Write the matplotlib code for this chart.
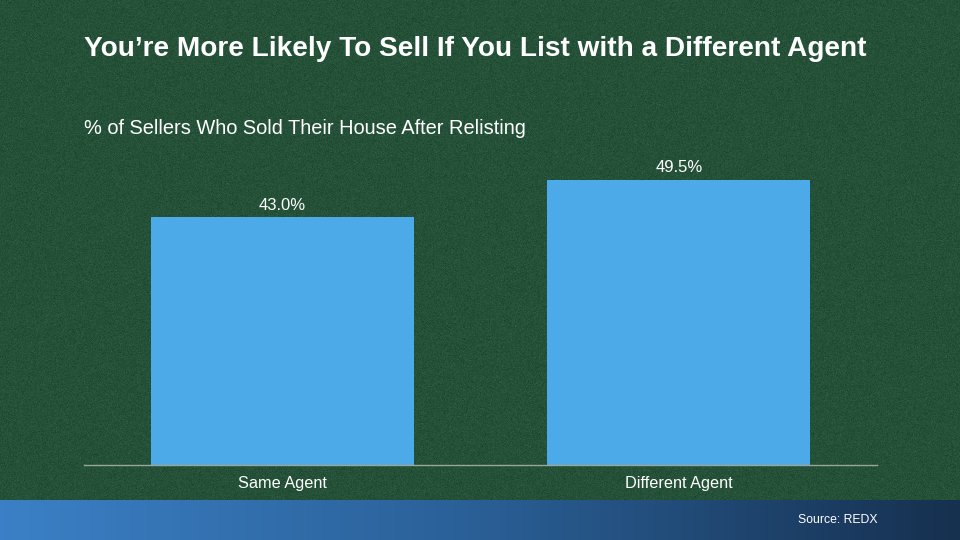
import matplotlib.pyplot as plt
import numpy as np
from matplotlib.colors import LinearSegmentedColormap

plt.rcParams['font.family'] = ['Liberation Sans', 'DejaVu Sans']

# data
categories = ['Same Agent', 'Different Agent']
values = [43.0, 49.5]
value_labels = ['43.0%', '49.5%']

title = 'You\u2019re More Likely To Sell If You List with a Different Agent'
subtitle = '% of Sellers Who Sold Their House After Relisting'
source = 'Source: REDX'

bg_green = '#25513a'
bar_blue = '#4daae8'

W, H = 960, 540
fig = plt.figure(figsize=(9.6, 5.4), dpi=100)
fig.patch.set_facecolor(bg_green)

# felt-like background texture
bg = fig.add_axes([0, 0, 1, 1], zorder=-10)
rng = np.random.default_rng(3)
noise = rng.normal(0, 1, (H, W))
base = np.array([0x25, 0x51, 0x38]) / 255
tex = np.clip(base[None, None, :] + noise[..., None] * 0.018, 0, 1)
bg.imshow(tex, aspect='auto', extent=[0, 1, 0, 1], interpolation='nearest')
bg.axis('off')

# bottom gradient band
band = fig.add_axes([0, 0, 1, 40 / H])
grad = np.linspace(0, 1, 256).reshape(1, -1)
band_cmap = LinearSegmentedColormap.from_list('band', ['#3b80c6', '#2a5f96', '#16304f'])
band.imshow(grad, aspect='auto', cmap=band_cmap, extent=[0, 1, 0, 1])
band.axis('off')
band.text(877 / W, 0.5, source, color='white', fontsize=8.8, ha='right', va='center',
          transform=band.transAxes)

# main axes: x 84..877 px, y baseline 465 px
ax = fig.add_axes([84 / W, (H - 465) / H, (877 - 84) / W, (465 - 160) / H])
ax.set_facecolor('none')
x = np.arange(len(categories))
bars = ax.bar(x, values, width=0.663, color=bar_blue, zorder=2)
ax.set_xlim(-0.5, 1.5)
ax.set_ylim(0, 52.9)
for b, lab in zip(bars, value_labels):
    ax.annotate(lab, (b.get_x() + b.get_width() / 2, b.get_height()),
                xytext=(0, 3), textcoords='offset points', ha='center', va='bottom',
                color='white', fontsize=12)

ax.set_xticks(x)
ax.set_xticklabels(categories, color='white', fontsize=11.7)
ax.tick_params(axis='x', length=0, pad=8)
ax.set_yticks([])
for s in ['top', 'right', 'left']:
    ax.spines[s].set_visible(False)
ax.spines['bottom'].set_color('#9aa59c')
ax.spines['bottom'].set_linewidth(1)

fig.text(84 / W, 1 - 49 / H, title, color='white', fontsize=20.2, fontweight='bold',
         ha='left', va='center')
fig.text(84 / W, 1 - 128 / H, subtitle, color='white', fontsize=14.4,
         ha='left', va='center')

fig.savefig('out.png', dpi=100, facecolor=fig.get_facecolor())
